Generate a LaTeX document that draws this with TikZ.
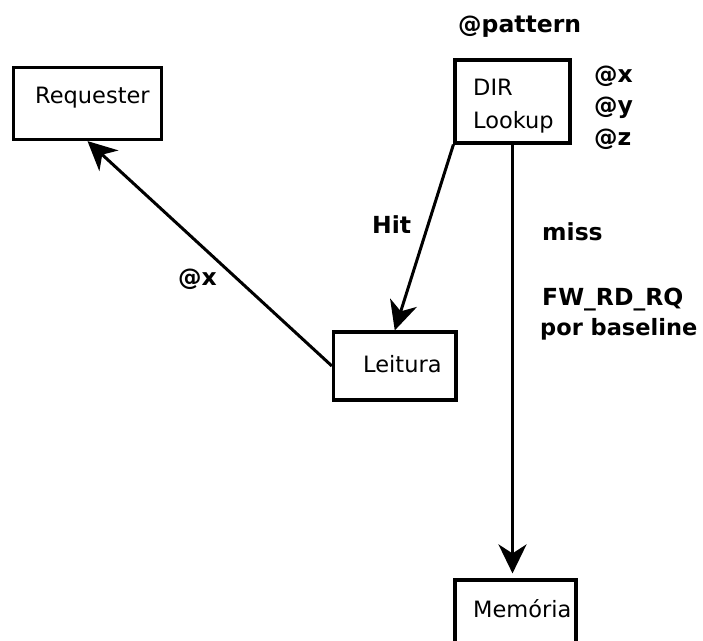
\documentclass[tikz,border=0pt]{standalone}
\usepackage{fontspec}
\setmainfont{DejaVu Sans}
\usetikzlibrary{arrows.meta}
\begin{document}
\begin{tikzpicture}[x=1pt,y=-1pt,
  box/.style={draw, line width=3.2pt, inner sep=0pt},
  txt/.style={inner sep=0pt, anchor=base west, font=\fontsize{22.5}{27}\selectfont},
  tag/.style={inner sep=0pt, anchor=base west, font=\fontsize{23.5}{28}\selectfont\bfseries},
  flow/.style={line width=3pt, -{Stealth[length=29pt, width=28pt, inset=9pt]}}]
  \useasboundingbox (0,0) rectangle (703,640);
  \clip (0,0) rectangle (703,640);

  % boxes
  \node[box, minimum width=148pt, minimum height=72pt] (req) at (87.5,103.5) {};
  \node[box, minimum width=115pt, minimum height=83pt] (dir) at (512.5,101.5) {};
  \node[box, minimum width=122.5pt, minimum height=68pt] (leit) at (394.75,366) {};
  \node[box, minimum width=121pt, minimum height=100pt] (mem) at (515.5,630) {};

  % box captions
  \node[txt] (treq) at (35,103) {Requester};
  \node[txt] (tdir) at (473,95) {DIR};
  \node[txt] (tlook) at (473,128) {Lookup};
  \node[txt] (tleit) at (363,372) {Leitura};
  \node[txt] (tmem) at (473,617) {Memória};

  % bold annotations
  \node[tag] (pat) at (458,32) {@pattern};
  \node[tag] (ax) at (594,82) {@x};
  \node[tag] (ay) at (594,113) {@y};
  \node[tag] (az) at (594,145) {@z};
  \node[tag] (hit) at (372,233) {Hit};
  \node[tag] (miss) at (542,240) {miss};
  \node[tag] (fw) at (542,305) {FW\_RD\_RQ};
  \node[tag, font=\fontsize{22.5}{27}\selectfont\bfseries] (por) at (540,335) {por baseline};
  \node[tag] (lx) at (178,285) {@x};

  % connectors
  \draw[flow] (dir.south west) -- (leit.north);
  \draw[flow] (leit.west) -- (req.south);
  \draw[flow, shorten >=5pt] (dir.south) -- (dir.south |- mem.north);
\end{tikzpicture}
\end{document}
